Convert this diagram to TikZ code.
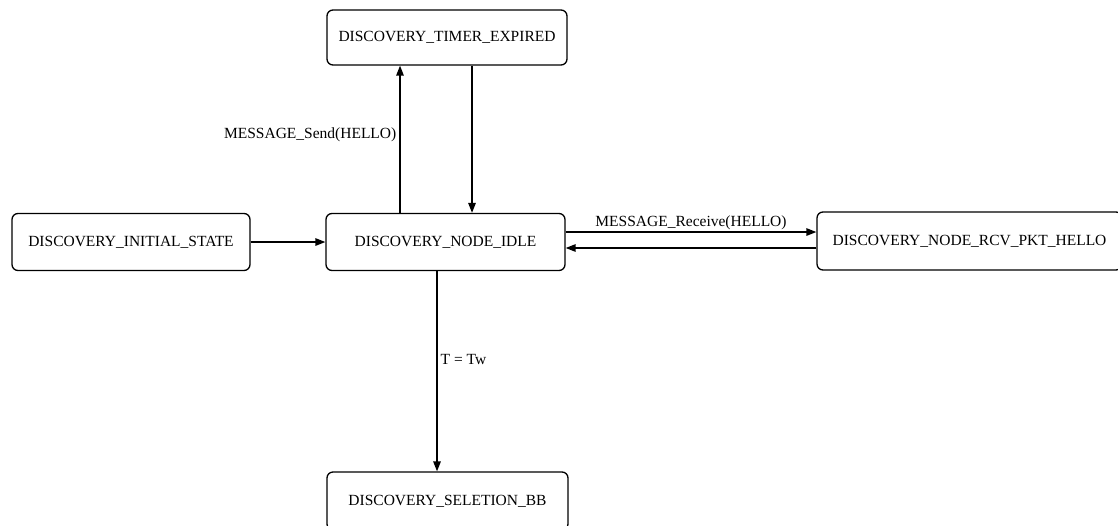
\documentclass[tikz,border=0pt]{standalone}
\usepackage{fontspec}
\setmainfont{Liberation Serif}
\usetikzlibrary{arrows.meta}
\begin{document}
\begin{tikzpicture}[x=1pt,y=-1pt,
  state/.style={draw, line width=1.3pt, rounded corners=6pt, inner sep=0pt,
    font=\fontsize{15.5}{17}\selectfont},
  arr/.style={line width=1.4pt, -{Triangle[length=10pt,width=7.5pt]}},
  lbl/.style={font=\fontsize{15.5}{17}\selectfont, inner sep=3pt}]
\useasboundingbox (0,0) rectangle (1118,525);
\node[state, minimum width=240pt, minimum height=55pt] (timer) at (447,37.5) {DISCOVERY\_TIMER\_EXPIRED};
\node[state, minimum width=238pt, minimum height=57pt] (init) at (131,242) {DISCOVERY\_INITIAL\_STATE};
\node[state, minimum width=239pt, minimum height=57pt] (idle) at (445.5,242) {DISCOVERY\_NODE\_IDLE};
\node[state, minimum width=305pt, minimum height=58pt] (rcv) at (969.5,241) {DISCOVERY\_NODE\_RCV\_PKT\_HELLO};
\node[state, minimum width=241pt, minimum height=58pt] (sel) at (447.5,501) {DISCOVERY\_SELETION\_BB};
\coordinate (xup) at (400,0);
\coordinate (xdn) at (472,0);
\coordinate (xsel) at (437,0);
\coordinate (yout) at (0,232);
\coordinate (yin) at (0,248);
\draw[arr] (idle.north -| xup) -- node[lbl, left, pos=0.53] {MESSAGE\_Send(HELLO)} (timer.south -| xup);
\draw[arr] (timer.south -| xdn) -- (idle.north -| xdn);
\draw[arr] (init.east) -- (idle.west);
\draw[arr] (idle.east |- yout) -- node[lbl, above, inner sep=2pt] {MESSAGE\_Receive(HELLO)} (rcv.west |- yout);
\draw[arr] (rcv.west |- yin) -- (idle.east |- yin);
\draw[arr] (idle.south -| xsel) -- node[lbl, right, pos=0.44] {T = Tw} (sel.north -| xsel);
\end{tikzpicture}
\end{document}
